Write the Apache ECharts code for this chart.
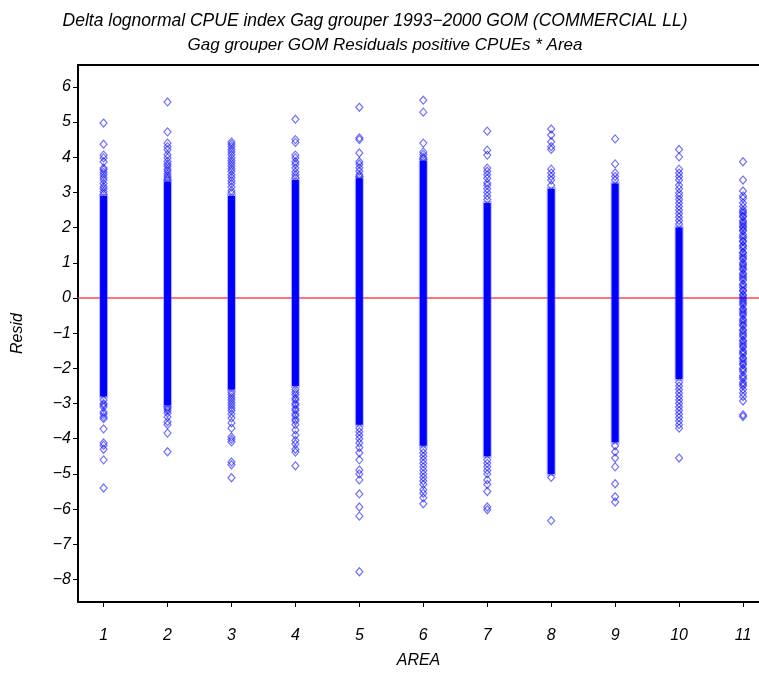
<!DOCTYPE html>
<html><head><meta charset="utf-8">
<script src="https://cdn.jsdelivr.net/npm/echarts@6/dist/echarts.min.js"></script>
<style>html,body{margin:0;padding:0;background:#fff}#c{width:759px;height:673px}</style>
</head><body><div id="c"></div>
<script>
const titleLine1 = 'Delta lognormal CPUE index Gag grouper 1993\u22122000 GOM (COMMERCIAL LL)';
const titleLine2 = 'Gag grouper GOM Residuals positive CPUEs * Area';
const xTicks = [1,2,3,4,5,6,7,8,9,10,11];
const yTicks = [-8,-7,-6,-5,-4,-3,-2,-1,0,1,2,3,4,5,6];
const areas = [1,2,3,4,5,6,7,8,9,10,11];
// dense (fully overlapping) residual range per area
const denseLow  = [-2.8, -3.05, -2.6, -2.5, -3.6, -4.2, -4.5, -5.0, -4.1, -2.3, null];
const denseHigh = [2.9, 3.3, 2.9, 3.35, 3.4, 3.9, 2.7, 3.1, 3.25, 2.0, null];
// individually visible residuals per area
const resid1 = [4.97,4.37,4.06,3.98,3.87,3.69,3.64,3.57,3.5,3.42,3.35,3.25,3.16,3.1,3.02,2.95,
  -2.9,-3.0,-3.04,-3.1,-3.24,-3.3,-3.38,-3.43,-3.72,-4.12,-4.19,-4.3,-4.6,-5.4];
const resid2 = [5.57,4.72,4.4,4.3,4.21,4.07,3.98,3.88,3.8,3.74,3.66,3.6,3.52,3.46,3.4,3.35,
  -3.1,-3.15,-3.2,-3.27,-3.38,-3.52,-3.6,-3.84,-4.37];
const resid3 = [4.43,4.37,4.3,4.22,4.15,4.07,3.98,3.9,3.83,3.75,3.67,3.6,3.5,3.42,3.33,3.25,3.15,3.05,2.98,
  -2.68,-2.75,-2.83,-2.9,-2.98,-3.05,-3.13,-3.2,-3.3,-3.41,-3.55,-3.7,-3.95,-4.02,-4.09,-4.66,-4.74,-5.11];
const resid4 = [5.08,4.5,4.42,4.06,3.98,3.87,3.8,3.69,3.58,3.5,3.42,
  -2.6,-2.68,-2.75,-2.85,-2.9,-3.0,-3.05,-3.15,-3.2,-3.3,-3.35,-3.45,-3.5,-3.6,-3.75,-3.9,-4.05,-4.15,-4.3,-4.38,-4.77];
const resid5 = [5.42,4.55,4.5,4.12,3.87,3.8,3.7,3.6,3.5,3.45,
  -3.7,-3.8,-3.9,-4.0,-4.12,-4.25,-4.4,-4.6,-4.89,-5.0,-5.17,-5.57,-5.94,-6.2,-7.78];
const resid6 = [5.62,5.28,4.4,4.15,4.08,4.0,3.95,
  -4.3,-4.4,-4.5,-4.6,-4.7,-4.8,-4.9,-5.0,-5.1,-5.2,-5.3,-5.45,-5.55,-5.68,-5.85];
const resid7 = [4.74,4.2,4.06,3.69,3.6,3.5,3.4,3.27,3.2,3.1,3.0,2.9,2.8,
  -4.6,-4.7,-4.8,-4.9,-5.0,-5.17,-5.3,-5.5,-5.94,-6.02];
const resid8 = [4.8,4.63,4.44,4.3,4.22,3.66,3.55,3.45,3.35,3.2,
  -5.1,-6.33];
const resid9 = [4.52,3.81,3.55,3.45,3.35,
  -4.2,-4.37,-4.55,-4.8,-5.28,-5.65,-5.8];
const resid10 = [4.22,4.01,3.66,3.55,3.45,3.35,3.2,3.1,2.98,2.9,2.8,2.7,2.6,2.5,2.4,2.3,2.2,2.1,
  -2.4,-2.5,-2.6,-2.7,-2.8,-2.9,-3.0,-3.1,-3.2,-3.3,-3.4,-3.5,-3.6,-3.7,-4.55];
const resid11 = [3.87,3.35,3.04,2.9,2.83,2.7,2.6,2.5,2.45,2.4,2.33,2.3,2.2,2.15,2.1,2.04,2.0,1.93,1.9,1.8,1.75,
  1.7,1.62,1.6,1.5,1.46,1.4,1.3,1.27,1.2,1.14,1.1,1.0,0.95,0.9,0.84,0.8,0.7,0.66,0.6,0.55,0.5,0.4,0.36,0.3,
  0.22,0.2,0.1,0.06,0.0,-0.05,-0.1,-0.15,-0.2,-0.3,-0.34,-0.4,-0.45,-0.5,-0.6,-0.64,-0.7,-0.76,-0.8,-0.9,
  -0.93,-1.0,-1.05,-1.1,-1.2,-1.24,-1.3,-1.36,-1.4,-1.5,-1.55,-1.6,-1.7,-1.73,-1.8,-1.86,-1.9,-2.0,-2.04,
  -2.1,-2.2,-2.25,-2.3,-2.4,-2.45,-2.5,-2.6,-2.7,-2.8,-2.93,-3.32,-3.37];
const residByArea = [resid1,resid2,resid3,resid4,resid5,resid6,resid7,resid8,resid9,resid10,resid11];

const xMin = 0.6, xMax = 11.25, yMin = -8.64, yMax = 6.62;

const pts = [];
areas.forEach((a, i) => residByArea[i].forEach(v => pts.push([a, v])));
const bands = [];
areas.forEach((a, i) => { if (denseLow[i] !== null) bands.push([a, denseLow[i], denseHigh[i]]); });

const FONT = '"Liberation Sans", Arial, sans-serif';
const minus = v => String(v).replace('-', '\u2212');

const chart = echarts.init(document.getElementById('c'), null, {renderer: 'canvas'});
chart.setOption({
  animation: false,
  backgroundColor: '#fff',
  title: [
    {text: titleLine1, left: 370, top: 7, textAlign: 'center',
     textStyle: {fontFamily: FONT, fontStyle: 'italic', fontWeight: 'normal', fontSize: 17.5, color: '#000'}},
    {text: titleLine2, left: 380, top: 32, textAlign: 'center',
     textStyle: {fontFamily: FONT, fontStyle: 'italic', fontWeight: 'normal', fontSize: 17, color: '#000'}}
  ],
  grid: {left: 78, top: 65, right: 0, bottom: 71, containLabel: false, outerBoundsMode: 'none'},
  xAxis: [{
    type: 'value', min: xMin, max: xMax, position: 'bottom',
    name: 'AREA', nameLocation: 'middle', nameGap: 51,
    nameTextStyle: {fontFamily: FONT, fontStyle: 'italic', fontSize: 16, color: '#000'},
    axisLine: {show: true, onZero: false, lineStyle: {color: '#000', width: 2}},
    axisTick: {show: true, length: 5, customValues: xTicks, lineStyle: {color: '#000', width: 1}},
    axisLabel: {customValues: xTicks, margin: 26, fontFamily: FONT, fontStyle: 'italic', fontSize: 16, color: '#000'},
    splitLine: {show: false}
  }, {
    type: 'value', min: xMin, max: xMax, position: 'top',
    axisLine: {show: true, onZero: false, lineStyle: {color: '#000', width: 2}},
    axisTick: {show: false}, axisLabel: {show: false}, splitLine: {show: false}
  }],
  yAxis: {
    type: 'value', min: yMin, max: yMax,
    name: 'Resid', nameLocation: 'middle', nameGap: 52, nameRotate: 90,
    nameTextStyle: {fontFamily: FONT, fontStyle: 'italic', fontSize: 16, color: '#000'},
    axisLine: {show: true, onZero: false, lineStyle: {color: '#000', width: 2}},
    axisTick: {show: true, length: 5, customValues: yTicks, lineStyle: {color: '#000', width: 1}},
    axisLabel: {customValues: yTicks, margin: 7, formatter: minus,
      fontFamily: FONT, fontStyle: 'italic', fontSize: 16, color: '#000'},
    splitLine: {show: false}
  },
  series: [
    {type: 'line', xAxisIndex: 0, data: [[xMin, 0], [xMax, 0]], symbol: 'none', z: 1,
     lineStyle: {color: 'rgb(255,70,70)', width: 1.5}, silent: true},
    {type: 'custom', xAxisIndex: 0, data: bands, z: 2,
     renderItem: (params, api) => {
       const x = api.value(0);
       const lo = api.coord([x, api.value(1)]);
       const hi = api.coord([x, api.value(2)]);
       return {type: 'group', children: [
         {type: 'rect', shape: {x: lo[0] - 4.5, y: hi[1] - 2, width: 9, height: lo[1] - hi[1] + 4},
          style: {fill: 'rgba(90,90,255,0.45)'}},
         {type: 'rect', shape: {x: lo[0] - 3.5, y: hi[1], width: 7, height: lo[1] - hi[1]},
          style: {fill: '#0000ff'}}
       ]};
     }},
    {type: 'scatter', xAxisIndex: 0, data: pts, z: 3, symbol: 'diamond', symbolSize: [7, 8],
     itemStyle: {color: 'rgba(0,0,0,0)', borderColor: 'rgba(0,0,255,0.7)', borderWidth: 1.2}}
  ]
});
</script></body></html>
